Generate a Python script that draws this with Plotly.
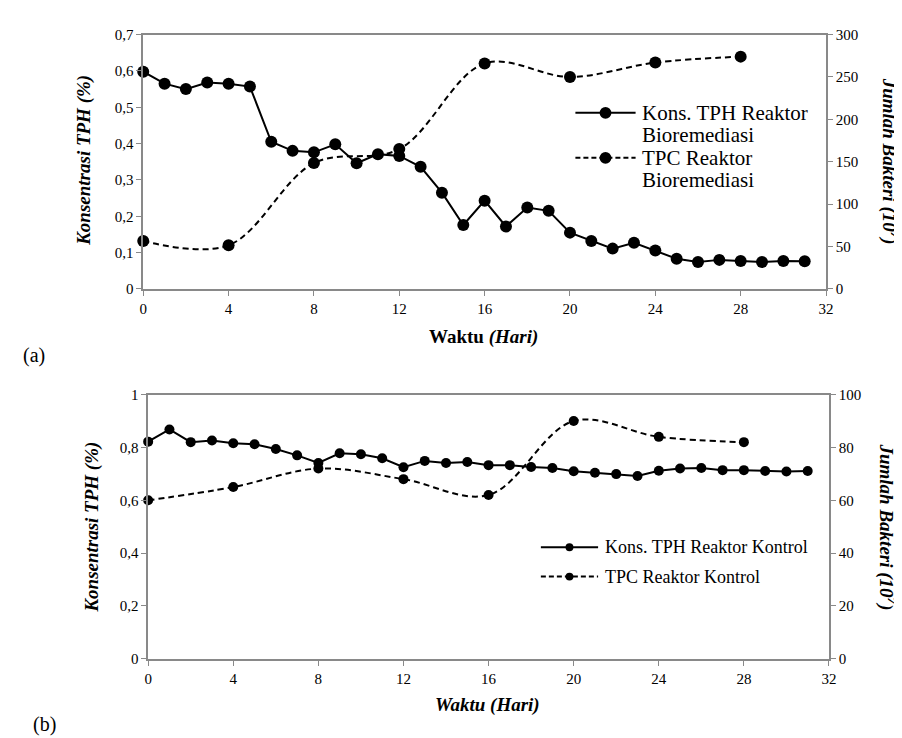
import plotly.graph_objects as go

# ---------------- data ----------------
days = list(range(0, 32))
tph_bio = [0.598, 0.565, 0.550, 0.568, 0.565, 0.557, 0.405, 0.380, 0.376, 0.398,
           0.346, 0.371, 0.366, 0.336, 0.265, 0.176, 0.243, 0.172, 0.224, 0.215,
           0.155, 0.132, 0.111, 0.127, 0.106, 0.083, 0.074, 0.080, 0.077, 0.074,
           0.077, 0.076]
tpc_days = [0, 4, 8, 12, 16, 20, 24, 28]
tpc_bio = [56.5, 51.5, 148.5, 165, 266, 250, 267, 274]

tph_kon = [0.822, 0.868, 0.820, 0.826, 0.816, 0.812, 0.794, 0.770, 0.741, 0.778,
           0.774, 0.759, 0.725, 0.749, 0.741, 0.745, 0.733, 0.733, 0.726, 0.722,
           0.710, 0.704, 0.699, 0.692, 0.712, 0.720, 0.722, 0.714, 0.714, 0.711,
           0.709, 0.711]
tpc_kon = [60, 65, 72, 68, 62, 90, 84, 82]

x_ticks = [0, 4, 8, 12, 16, 20, 24, 28, 32]

legend_top = ["Kons. TPH Reaktor<br>Bioremediasi", "TPC Reaktor<br>Bioremediasi"]
legend_bot = ["Kons. TPH Reaktor Kontrol", "TPC Reaktor Kontrol"]

W, H = 902, 738
FONT = "Times New Roman, Liberation Serif, DejaVu Serif, serif"
AX = "#898989"


def px(x):
    return x / W


def py(y):
    return 1 - y / H


fig = go.Figure()

# top chart
fig.add_trace(go.Scatter(x=days, y=tph_bio, mode="lines+markers", name=legend_top[0],
                         line=dict(color="black", width=2),
                         marker=dict(color="black", size=12),
                         xaxis="x", yaxis="y", cliponaxis=False, showlegend=False))
fig.add_trace(go.Scatter(x=tpc_days, y=tpc_bio, mode="lines+markers", name=legend_top[1],
                         line=dict(color="black", width=2, dash="6px,4px", shape="spline", smoothing=1),
                         marker=dict(color="black", size=12),
                         xaxis="x", yaxis="y2", cliponaxis=False, showlegend=False))

# bottom chart
fig.add_trace(go.Scatter(x=days, y=tph_kon, mode="lines+markers", name=legend_bot[0],
                         line=dict(color="black", width=2),
                         marker=dict(color="black", size=10),
                         xaxis="x2", yaxis="y3", cliponaxis=False, showlegend=False))
fig.add_trace(go.Scatter(x=tpc_days, y=tpc_kon, mode="lines+markers", name=legend_bot[1],
                         line=dict(color="black", width=2, dash="6px,4px", shape="spline", smoothing=1),
                         marker=dict(color="black", size=10),
                         xaxis="x2", yaxis="y4", cliponaxis=False, showlegend=False))

tickfont = dict(family=FONT, size=15, color="black")
common_x = dict(range=[0, 32], tickvals=x_ticks, showgrid=False, zeroline=False,
                showline=True, linecolor=AX, linewidth=1.5, mirror=True,
                ticks="outside", ticklen=5, tickcolor=AX, tickfont=tickfont)
common_y = dict(showgrid=False, zeroline=False, showline=True, linecolor=AX,
                linewidth=1.5, ticks="outside", ticklen=5, tickcolor=AX, tickfont=tickfont)

fig.update_layout(
    width=W, height=H, margin=dict(l=0, r=0, t=0, b=0),
    paper_bgcolor="white", plot_bgcolor="white",
    separators=", ",
    font=dict(family=FONT, color="black"),
    showlegend=False,
    xaxis=dict(domain=[px(133), px(825)], anchor="y", **common_x),
    yaxis=dict(domain=[py(279), py(19)], range=[0, 0.7], dtick=0.1, anchor="x", **common_y),
    yaxis2=dict(overlaying="y", side="right", range=[0, 300], dtick=50, anchor="x", **common_y),
    xaxis2=dict(domain=[px(138), px(828)], anchor="y3", **common_x),
    yaxis3=dict(domain=[py(657), py(387)], range=[0, 1], dtick=0.2, anchor="x2", **common_y),
    yaxis4=dict(overlaying="y3", side="right", range=[0, 100], dtick=20, anchor="x2", **common_y),
)

shapes = []
ann = []


def legend_item(x0, x1, y, r, dash, text_lines, tx, fsize, lh):
    shapes.append(dict(type="line", xref="paper", yref="paper", x0=px(x0), x1=px(x1),
                       y0=py(y), y1=py(y), line=dict(color="black", width=2, dash=dash)))
    xc = (x0 + x1) / 2
    shapes.append(dict(type="circle", xref="paper", yref="paper", x0=px(xc - r), x1=px(xc + r),
                       y0=py(y + r), y1=py(y - r), fillcolor="black", line=dict(color="black", width=0)))
    for i, t in enumerate(text_lines):
        ann.append(dict(text=t, x=px(tx), y=py(y + i * lh), xref="paper", yref="paper",
                        showarrow=False, xanchor="left", yanchor="middle",
                        font=dict(family=FONT, size=fsize, color="black")))


top1 = legend_top[0].split("<br>")
top2 = legend_top[1].split("<br>")
legend_item(571, 632, 99, 6, "solid", top1, 636, 21, 23)
legend_item(571, 632, 145, 6, "5px,3px", top2, 636, 21, 23)
legend_item(536, 594, 543, 4, "solid", [legend_bot[0]], 599, 18, 0)
legend_item(536, 594, 573, 4, "5px,3px", [legend_bot[1]], 599, 18, 0)

tfont = dict(family=FONT, size=19, color="black")
titles = [
    ("<b><i>Konsentrasi TPH (%)</i></b>", 73, 148, -90),
    ("<b><i>Jumlah Bakteri (10<sup>7</sup>)</i></b>", 890, 148, 90),
    ("<b>Waktu <i>(Hari)</i></b>", 478, 328, 0),
    ("<b><i>Konsentrasi TPH (%)</i></b>", 81, 522, -90),
    ("<b><i>Jumlah Bakteri (10<sup>7</sup>)</i></b>", 887, 522, 90),
    ("<b><i>Waktu (Hari)</i></b>", 482, 704, 0),
]
for t, x, y, ang in titles:
    ann.append(dict(text=t, x=px(x), y=py(y), textangle=ang, xref="paper", yref="paper",
                    showarrow=False, font=tfont, xanchor="center", yanchor="middle"))
ann.append(dict(text="(a)", x=px(22), y=py(347), xref="paper", yref="paper", showarrow=False,
                font=dict(family=FONT, size=20, color="black"), xanchor="center", yanchor="middle"))
ann.append(dict(text="(b)", x=px(33), y=py(724), xref="paper", yref="paper", showarrow=False,
                font=dict(family=FONT, size=20, color="black"), xanchor="center", yanchor="middle"))
fig.update_layout(annotations=ann, shapes=shapes)

fig.write_html("out.html")
